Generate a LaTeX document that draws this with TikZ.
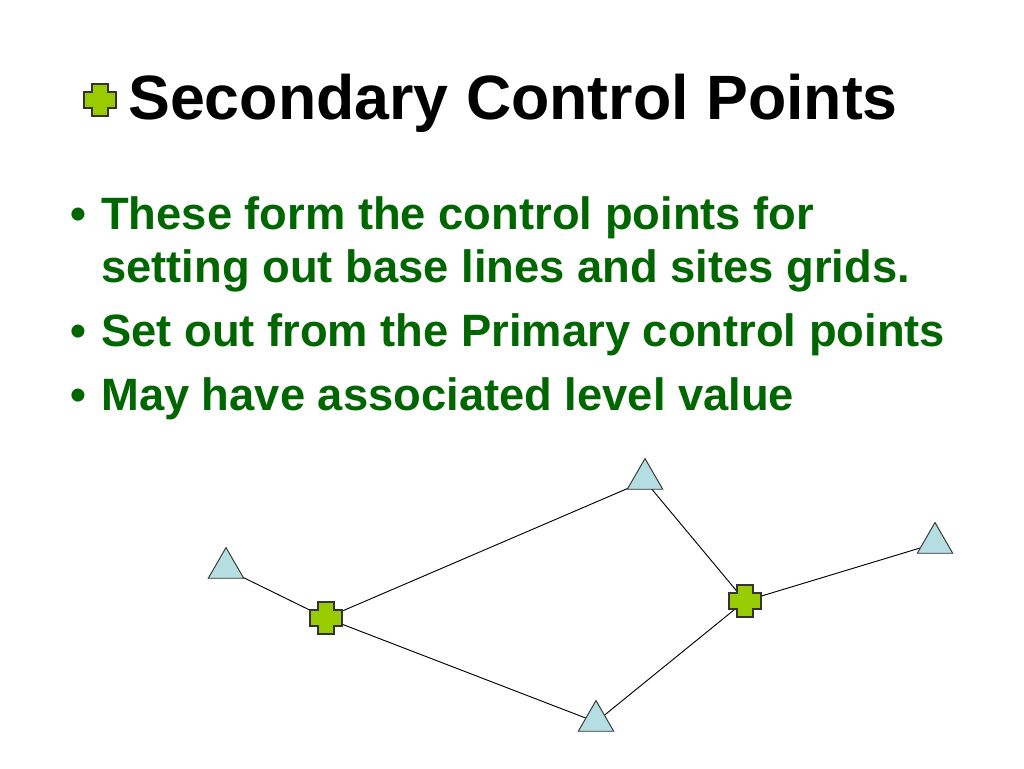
\documentclass[tikz,border=0pt]{standalone}
\usepackage{fontspec}
\setmainfont{Liberation Sans}
\usetikzlibrary{shapes.geometric}
\definecolor{dgreen}{RGB}{0,102,0}
\definecolor{lime}{RGB}{153,204,0}
\definecolor{lblue}{RGB}{180,222,226}
\tikzset{
 tri/.style={isosceles triangle, isosceles triangle apex angle=60, shape border rotate=90, draw=black!80, fill=lblue, line width=0.7pt, minimum size=23pt, inner sep=0pt},
 link/.style={line width=0.7pt},
 bul/.style={anchor=base west, text=dgreen, font=\bfseries\fontsize{34}{40}\selectfont, inner sep=0pt}
}
\newcommand{\plusshape}[3]{% center x, center y, half size
 \filldraw[fill=lime,draw=black!80,line width=0.9pt]
  ({#1-#3/2},{#2-#3}) -- ({#1+#3/2},{#2-#3}) -- ({#1+#3/2},{#2-#3/2}) -- ({#1+#3},{#2-#3/2}) -- ({#1+#3},{#2+#3/2}) -- ({#1+#3/2},{#2+#3/2}) -- ({#1+#3/2},{#2+#3}) -- ({#1-#3/2},{#2+#3}) -- ({#1-#3/2},{#2+#3/2}) -- ({#1-#3},{#2+#3/2}) -- ({#1-#3},{#2-#3/2}) -- ({#1-#3/2},{#2-#3/2}) -- cycle;}
\begin{document}
\begin{tikzpicture}[x=0.75pt,y=-0.75pt]
\useasboundingbox (0,0) rectangle (1024,768);
\fill[white] (0,0) rectangle (1024,768);
% title
\plusshape{100}{100}{16}
\node[anchor=base west, inner sep=0pt, font=\bfseries\fontsize{47}{55}\selectfont] (title) at (128,119) {Secondary Control Points};
% bullets
\node[bul] (b1) at (70,229) {•};
\node[bul] (t1) at (101,229) {These form the control points for};
\node[bul] (t1b) at (101,282) {setting out base lines and sites grids.};
\node[bul] (b2) at (70,346) {•};
\node[bul] (t2) at (101,346) {Set out from the Primary control points};
\node[bul] (b3) at (70,410) {•};
\node[bul] (t3) at (101,410) {May have associated level value};
% network
\coordinate (c1) at (326,618);
\coordinate (c2) at (745,601);
\coordinate (p1) at (230,571);
\coordinate (p2) at (645,481);
\coordinate (p3) at (930,545);
\coordinate (p4) at (596,722);
\draw[link] (p1) -- (c1) -- (p2) -- (c2) -- (p3);
\draw[link] (c1) -- (p4) -- (c2);
\plusshape{326}{618}{16}
\plusshape{745}{601}{16}
\node[tri] (t-a) at (226,568) {};
\node[tri] (t-b) at (645,479) {};
\node[tri] (t-c) at (935,543) {};
\node[tri] (t-d) at (596,721) {};
\end{tikzpicture}
\end{document}
